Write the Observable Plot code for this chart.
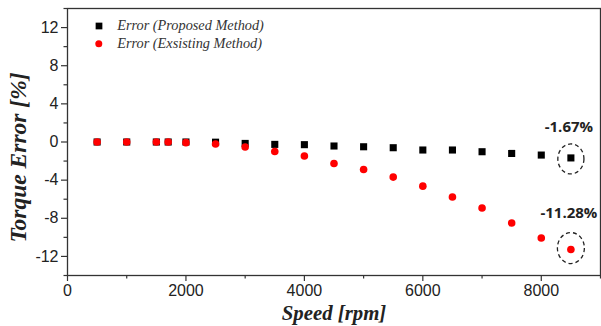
<!DOCTYPE html>
<html><head><meta charset="utf-8">
<script src="https://cdn.jsdelivr.net/npm/d3@7"></script>
<script src="https://cdn.jsdelivr.net/npm/@observablehq/plot@0.6"></script>
<style>body{margin:0;background:#fff}</style>
</head><body><div id="chart"></div>
<script>
const speeds = [500,1000,1500,1700,2000,2500,3000,3500,4000,4500,5000,5500,6000,6500,7000,7500,8000,8500];
const proposed = [0,0,0,0,0,-0.02,-0.15,-0.25,-0.28,-0.42,-0.5,-0.6,-0.84,-0.84,-1.02,-1.2,-1.37,-1.67];
const existing = [0,0,0,0,-0.07,-0.21,-0.53,-0.99,-1.47,-2.25,-2.88,-3.68,-4.63,-5.76,-6.92,-8.49,-10.07,-11.28];
const xTicks = [0,2000,4000,6000,8000];
const xMinor = [1000,3000,5000,7000,9000];
const yTicks = [-12,-8,-4,0,4,8,12];
const yMinor = [-14,-10,-6,-2,2,6,10,14];
const seriesLabels = ["Error (Proposed Method)", "Error (Exsisting Method)"];
const annotations = [
  {speed: 8500, value: -1.67, label: "-1.67%"},
  {speed: 8500, value: -11.28, label: "-11.28%"}
];
const xLabel = "Speed [rpm]";
const yLabel = "Torque Error [%]";

const data = speeds.map((s, i) => ({speed: s, proposed: proposed[i], existing: existing[i]}));

const ellipse = {
  draw(context, size) {
    const r = Math.sqrt(size / Math.PI);
    const rx = r * 0.87, ry = r, k = 0.5523;
    context.moveTo(rx, 0);
    context.bezierCurveTo(rx, k * ry, k * rx, ry, 0, ry);
    context.bezierCurveTo(-k * rx, ry, -rx, k * ry, -rx, 0);
    context.bezierCurveTo(-rx, -k * ry, -k * rx, -ry, 0, -ry);
    context.bezierCurveTo(k * rx, -ry, rx, -k * ry, rx, 0);
    context.closePath();
  }
};

const serif = "'Liberation Serif', 'Times New Roman', serif";
const plot = Plot.plot({
  width: 601, height: 326,
  marginLeft: 67, marginRight: 1, marginTop: 8, marginBottom: 51,
  style: {fontFamily: "'Liberation Sans', Arial, sans-serif", fontSize: "16px", color: "#222", background: "#fff", overflow: "visible"},
  x: {domain: [0, 9000]},
  y: {domain: [-14, 14]},
  marks: [
    Plot.frame({stroke: "#333", strokeWidth: 1.3}),
    Plot.axisX({ticks: xTicks, tickSize: 6, tickPadding: 3, label: null, tickFormat: d => String(d), stroke: "#333", strokeWidth: 1.2}),
    Plot.axisX({ticks: xMinor, tickSize: 3.5, label: null, tickFormat: () => "", stroke: "#333", strokeWidth: 1.2}),
    Plot.axisY({ticks: yTicks, tickSize: 6, tickPadding: 3, label: null, tickFormat: d => String(d), stroke: "#333", strokeWidth: 1.2}),
    Plot.axisY({ticks: yMinor, tickSize: 3.5, label: null, tickFormat: () => "", stroke: "#333", strokeWidth: 1.2}),
    Plot.dot(data, {x: "speed", y: "proposed", symbol: "square", r: 4, fill: "#000", stroke: "none"}),
    Plot.dot(data, {x: "speed", y: "existing", symbol: "circle", r: 3.8, fill: "#ff0000", stroke: "none"}),
    Plot.dot(annotations.slice(0, 1), {x: "speed", y: "value", symbol: ellipse, r: 15, dy: 1, fill: "none", stroke: "#222", strokeWidth: 1.3, strokeDasharray: "4,3"}),
    Plot.dot(annotations.slice(1), {x: "speed", y: "value", symbol: ellipse, r: 15.5, dy: -1.5, fill: "none", stroke: "#222", strokeWidth: 1.3, strokeDasharray: "4,3"}),
    Plot.text(annotations.slice(0, 1), {x: "speed", y: "value", text: "label", dy: -31, dx: -2, fontWeight: "bold", fontSize: 15, fontFamily: "'Open Sans', 'Noto Sans', sans-serif", fill: "#222"}),
    Plot.text(annotations.slice(1), {x: "speed", y: "value", text: "label", dy: -36, dx: -2, fontWeight: "bold", fontSize: 15, fontFamily: "'Open Sans', 'Noto Sans', sans-serif", fill: "#222"}),
    Plot.dot([0], {frameAnchor: "top-left", dx: 31.5, dy: 17.5, symbol: "square", r: 3.8, fill: "#000"}),
    Plot.dot([0], {frameAnchor: "top-left", dx: 31.3, dy: 35.3, symbol: "circle", r: 3.5, fill: "#ff0000"}),
    Plot.text([seriesLabels[0]], {frameAnchor: "top-left", dx: 49.7, dy: 17, text: d => d, textAnchor: "start", lineAnchor: "middle", fontStyle: "italic", fontFamily: serif, fontSize: 14.3, fill: "#333"}),
    Plot.text([seriesLabels[1]], {frameAnchor: "top-left", dx: 49.7, dy: 35, text: d => d, textAnchor: "start", lineAnchor: "middle", fontStyle: "italic", fontFamily: serif, fontSize: 14.3, fill: "#333"}),
    Plot.text([yLabel], {frameAnchor: "left", rotate: -90, dx: -49, dy: 15.5, text: d => d, textAnchor: "middle", lineAnchor: "middle", fontStyle: "italic", fontWeight: "bold", fontFamily: serif, fontSize: 23.5, fill: "#222"}),
    Plot.text([xLabel], {frameAnchor: "bottom", dy: 38, text: d => d, textAnchor: "middle", lineAnchor: "middle", fontStyle: "italic", fontWeight: "bold", fontFamily: serif, fontSize: 20.8, fill: "#222"})
  ]
});
document.getElementById("chart").appendChild(plot);
</script>
</body></html>
